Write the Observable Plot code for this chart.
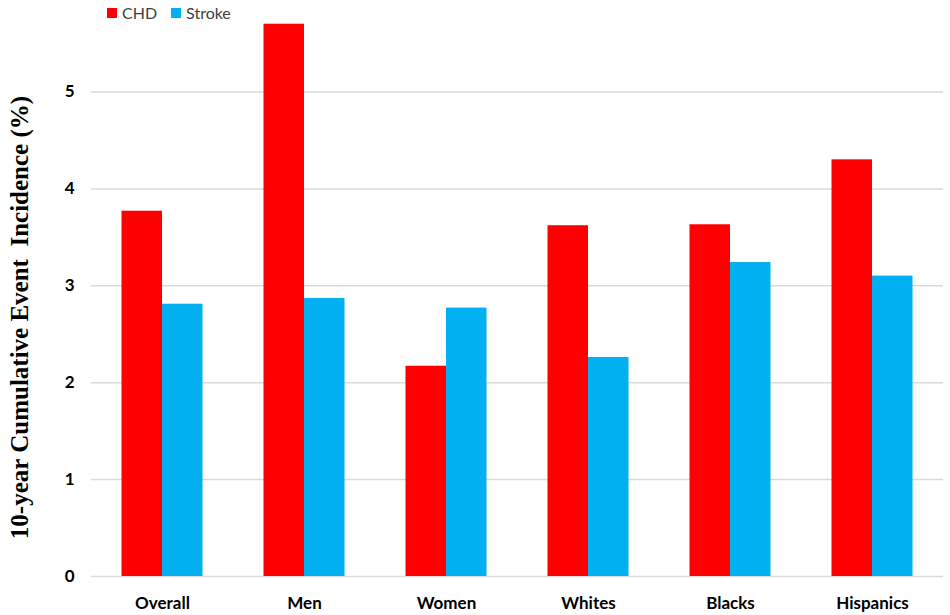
<!DOCTYPE html>
<html>
<head>
<meta charset="utf-8">
<script src="https://cdn.jsdelivr.net/npm/d3@7"></script>
<script src="https://cdn.jsdelivr.net/npm/@observablehq/plot@0.6"></script>
<style>
  html, body { margin: 0; padding: 0; background: #fff; }
  #wrap { position: relative; width: 950px; height: 615px; }
  #legend { position: absolute; left: 107px; top: 3px; display: flex; gap: 14px;
    font-family: Lato, "Open Sans", sans-serif; font-size: 16px; color: #404040; }
  #legend .item { display: flex; align-items: center; gap: 5px; }
  #legend .sw { width: 10px; height: 10px; display: inline-block; }
</style>
</head>
<body>
<div id="wrap"><div id="legend"></div></div>
<script>
const categories = ["Overall", "Men", "Women", "Whites", "Blacks", "Hispanics"];
const series = ["CHD", "Stroke"];
const colors = ["#ff0000", "#00b0f0"];
const chdValues = [3.77, 5.70, 2.17, 3.62, 3.63, 4.30];
const strokeValues = [2.81, 2.87, 2.77, 2.26, 3.24, 3.10];
const yTicks = [0, 1, 2, 3, 4, 5];
const yLabel = "10-year Cumulative Event\u00a0 Incidence (%)";

const rows = [];
categories.forEach((c, i) => {
  rows.push({category: c, series: series[0], value: chdValues[i]});
  rows.push({category: c, series: series[1], value: strokeValues[i]});
});

const chart = Plot.plot({
  width: 950,
  height: 615,
  marginTop: 14,
  marginBottom: 39,
  marginLeft: 89,
  marginRight: 5,
  fx: {domain: categories, padding: 0, label: null, axis: null},
  x: {domain: series, axis: null, paddingInner: 0, paddingOuter: 0.753, round: false},
  y: {domain: [0, 5.8], axis: null},
  color: {domain: series, range: colors},
  marks: [
    Plot.gridY(yTicks, {stroke: "#d9d9d9", strokeOpacity: 1, strokeWidth: 1.5}),
    Plot.barY(rows, {fx: "category", x: "series", y: "value", fill: "series"}),
    Plot.axisY(yTicks, {tickSize: 0, tickPadding: 17, label: null, tickFormat: d3.format("d"),
      fontFamily: "Lato, sans-serif", fontSize: 17, fontWeight: "bold", fill: "#000"}),
    Plot.axisFx({anchor: "bottom", tickSize: 0, tickPadding: 20, label: null,
      fontFamily: "Lato, sans-serif", fontSize: 17, fontWeight: "bold", fill: "#000"}),
    Plot.text([yLabel], {fx: [categories[0]], text: d => d, frameAnchor: "left", textAnchor: "middle",
      rotate: -90, dx: -72, dy: 22, fontFamily: "'Liberation Serif', 'Times New Roman', serif",
      fontSize: 25, fontWeight: "bold", fill: "#000"})
  ]
});
document.getElementById("wrap").appendChild(chart);

const legend = document.getElementById("legend");
series.forEach((s, i) => {
  const item = document.createElement("span");
  item.className = "item";
  const sw = document.createElement("span");
  sw.className = "sw";
  sw.style.background = colors[i];
  item.appendChild(sw);
  item.appendChild(document.createTextNode(s));
  legend.appendChild(item);
});
</script>
</body>
</html>
